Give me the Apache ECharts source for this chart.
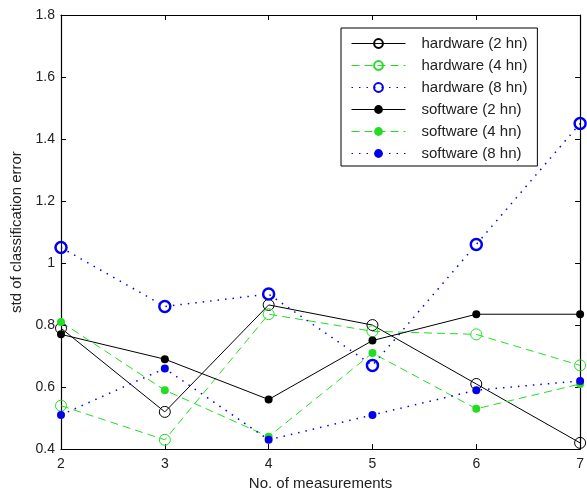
<!DOCTYPE html>
<html><head><meta charset="utf-8">
<script src="https://cdn.jsdelivr.net/npm/echarts@6/dist/echarts.min.js"></script>
<style>html,body{margin:0;padding:0;background:#fff}#c{width:587px;height:496px}</style>
</head><body><div id="c"></div>
<script>
const xValues = [2, 3, 4, 5, 6, 7];
const hw2 = [0.79, 0.52, 0.865, 0.80, 0.61, 0.42];
const hw4 = [0.54, 0.43, 0.835, 0.78, 0.77, 0.67];
const hw8 = [1.05, 0.86, 0.90, 0.67, 1.06, 1.45];
const sw2 = [0.77, 0.69, 0.56, 0.75, 0.835, 0.835];
const sw4 = [0.81, 0.59, 0.44, 0.71, 0.53, 0.61];
const sw8 = [0.51, 0.66, 0.43, 0.51, 0.59, 0.62];
const seriesNames = ['hardware (2 hn)','hardware (4 hn)','hardware (8 hn)','software (2 hn)','software (4 hn)','software (8 hn)'];

const F = 'Liberation Sans, Arial, sans-serif';
const pairs = v => xValues.map((x,i)=>[x, v[i]]);
function mk(name, data, color, lineType, lineW, open, sym, symBorder){
  return {
    name, type:'line', data: pairs(data), symbol:'circle', symbolSize: sym,
    lineStyle:{color, width:lineW, type:lineType},
    itemStyle: open ? {color:'rgba(255,255,255,0)', borderColor:color, borderWidth:symBorder}
                    : {color, borderColor:color, borderWidth:0},
    emphasis:{disabled:true}, animation:false
  };
}
const chart = echarts.init(document.getElementById('c'), null, {renderer:'canvas'});
chart.setOption({
  animation:false,
  grid:{left:61, top:15, right:5, bottom:44},
  legend:{
    orient:'vertical', left:341, top:28, width:196,
    backgroundColor:'#fff', borderColor:'#000', borderWidth:1,
    padding:[8,10,5,10], itemGap:7, itemWidth:54, itemHeight:11,
    lineStyle:{width:1},
    textStyle:{fontFamily:F, fontSize:15, lineHeight:14, color:'#222', padding:[0,0,0,11]},
    data: seriesNames
  },
  xAxis:[{
    type:'value', min:2, max:7, interval:1,
    name:'No. of measurements', nameLocation:'middle', nameGap:25,
    nameTextStyle:{fontFamily:F, fontSize:15, color:'#222'},
    axisLine:{lineStyle:{color:'#000', width:1.2}},
    axisTick:{inside:true, length:5, lineStyle:{color:'#000'}},
    axisLabel:{fontFamily:F, fontSize:14, color:'#222', margin:8},
    splitLine:{show:false}
  },{
    type:'value', min:2, max:7, interval:1, position:'top',
    axisLine:{lineStyle:{color:'#000', width:1.2}},
    axisTick:{inside:true, length:5, lineStyle:{color:'#000'}},
    axisLabel:{show:false}, splitLine:{show:false}
  }],
  yAxis:[{
    type:'value', min:0.4, max:1.8, interval:0.2,
    name:'std of classification error', nameLocation:'middle', nameGap:33,
    nameTextStyle:{fontFamily:F, fontSize:15, color:'#222'},
    axisLine:{lineStyle:{color:'#000', width:1.2}},
    axisTick:{inside:true, length:5, lineStyle:{color:'#000'}},
    axisLabel:{fontFamily:F, fontSize:14, color:'#222', margin:6,
      formatter: v => String(Math.round(v*10)/10)},
    splitLine:{show:false}
  },{
    type:'value', min:0.4, max:1.8, interval:0.2, position:'right',
    axisLine:{lineStyle:{color:'#000', width:1.2}},
    axisTick:{inside:true, length:5, lineStyle:{color:'#000'}},
    axisLabel:{show:false}, splitLine:{show:false}
  }],
  series:[
    mk(seriesNames[0], hw2, '#000000', 'solid', 1, true, 11, 1),
    mk(seriesNames[1], hw4, '#22dd22', [8,5], 1, true, 11, 1),
    mk(seriesNames[2], hw8, '#0000ee', [1.5,6], 1.5, true, 11, 2.5),
    mk(seriesNames[3], sw2, '#000000', 'solid', 1, false, 8, 0),
    mk(seriesNames[4], sw4, '#22dd22', [8,5], 1, false, 8, 0),
    mk(seriesNames[5], sw8, '#0000ee', [1.5,6], 1.5, false, 8, 0)
  ]
});
</script></body></html>
